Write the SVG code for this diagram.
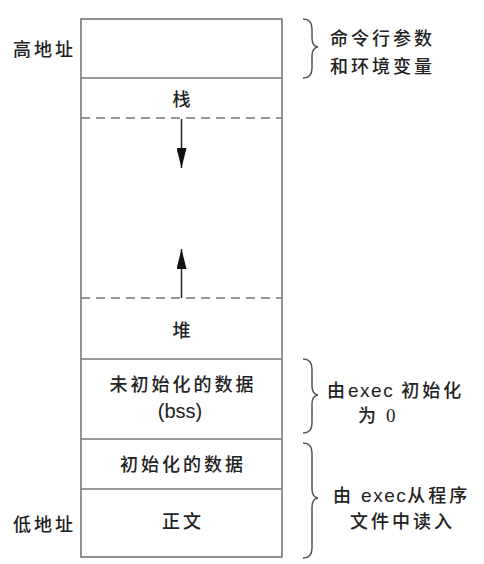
<svg xmlns="http://www.w3.org/2000/svg" width="484" height="564" viewBox="0 0 484 564">
<defs>
<style>
.box{fill:#fff;stroke:#777;stroke-width:1.6}
.sep{stroke:#777;stroke-width:1.6;fill:none}
.dash{stroke:#777;stroke-width:1.6;stroke-dasharray:9 6;fill:none}
.t{font-family:"Noto Sans CJK SC","Noto Sans",sans-serif;font-size:18px;font-weight:500;fill:#222;letter-spacing:3px}
.m{text-anchor:middle}
.lat{font-family:"Liberation Sans",Arial,sans-serif;letter-spacing:1.5px;font-size:19px}
.brace{fill:none;stroke:#555;stroke-width:1.5}
.arr{stroke:#222;stroke-width:1.5;fill:none}
</style>
<marker id="ah" viewBox="0 0 20 10" refX="20" refY="5" markerWidth="20" markerHeight="10" markerUnits="userSpaceOnUse" orient="auto">
<path d="M0,0 L20,5 L0,10 Z" fill="#111"/>
</marker>
</defs>
<rect width="484" height="564" fill="#fff"/>
<g id="memory">
<rect class="box" x="81" y="19" width="201" height="538"/>
</g>
<g id="args"><line class="sep" x1="81" y1="78" x2="282" y2="78"/></g>
<g id="stack"><text class="t m" x="183" y="106">栈</text></g>
<g id="gap">
<line class="dash" x1="81" y1="118" x2="282" y2="118"/>
<line class="dash" x1="81" y1="298" x2="282" y2="298"/>
</g>
<g id="heap"><text class="t m" x="183" y="337">堆</text></g>
<g id="bss">
<line class="sep" x1="81" y1="359" x2="282" y2="359"/>
<text class="t m" x="183" y="391">未初始化的数据</text>
<text class="t m" x="180" y="418" style="letter-spacing:0;font-family:'Liberation Sans',Arial,sans-serif;font-weight:400;font-size:20px">(bss)</text>
</g>
<g id="data">
<line class="sep" x1="81" y1="439" x2="282" y2="439"/>
<text class="t m" x="183" y="471">初始化的数据</text>
</g>
<g id="text">
<line class="sep" x1="81" y1="489" x2="282" y2="489"/>
<text class="t m" x="183" y="528">正文</text>
</g>
<g id="labels">
<text class="t" x="13" y="56">高地址</text>
<text class="t" x="13" y="531">低地址</text>
</g>
<g id="connectors">
<line class="arr" x1="181.5" y1="119" x2="181.5" y2="168" marker-end="url(#ah)"/>
<line class="arr" x1="181.5" y1="298" x2="181.5" y2="249" marker-end="url(#ah)"/>
<path class="brace" d="M303,19 Q312,19 312,29 L312,38 Q312,46 318,47 Q312,48 312,56 L312,68 Q312,78 303,78"/>
<path class="brace" d="M303,359 Q312,359 312,369 L312,386 Q312,394 318,395 Q312,396 312,404 L312,423 Q312,433 303,433"/>
<path class="brace" d="M303,443 Q312,443 312,453 L312,489 Q312,497 318,498 Q312,499 312,507 L312,548 Q312,558 303,558"/>
</g>
<g id="notes">
<text class="t" x="330" y="45">命令行参数</text>
<text class="t" x="330" y="73">和环境变量</text>
<text class="t" x="327" y="397">由<tspan class="lat">exec</tspan> 初始化</text>
<text class="t" x="358" y="422">为 <tspan style="font-family:'Liberation Serif',serif;font-weight:400;font-size:19px">0</tspan></text>
<text class="t" x="333" y="502">由 <tspan class="lat">exec</tspan>从程序</text>
<text class="t" x="350" y="528">文件中读入</text>
</g>
</svg>
